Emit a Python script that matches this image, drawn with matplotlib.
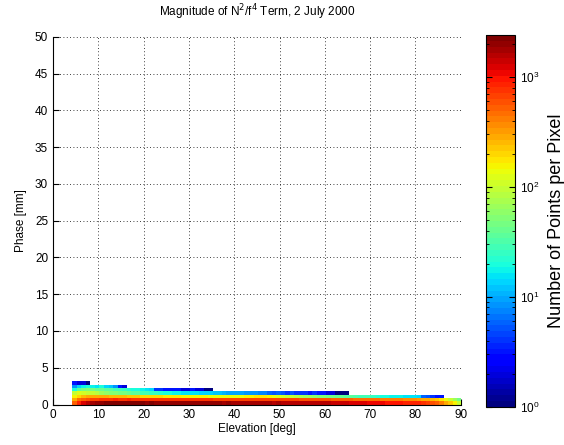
import numpy as np
import matplotlib
matplotlib.use('Agg')
import matplotlib.pyplot as plt
from matplotlib.colors import LogNorm
from matplotlib.ticker import LogLocator

plt.rcParams['font.family'] = ['Liberation Sans', 'DejaVu Sans']

# histogram bins: 1 deg in elevation, 0.45 mm in phase
elev_edges = np.arange(4.25, 91.0, 1.0)
phase_edges = [0.0, 0.45, 0.9, 1.35, 1.8, 2.25, 2.7, 3.15]

# counts per bin, one list per phase row (bottom row first); zero = empty
row0 = [500, 900, 1300, 1600, 1800, 2000,
        2100, 2200, 2300, 2300, 2300, 2300, 2200, 2300, 2200, 2200,
        2100, 2200, 2100, 2100, 2100, 2000, 2100, 2000, 2000, 2000,
        2000, 1900, 2000, 1900, 1900, 1900, 1900, 1800, 1900, 1800,
        1800, 1800, 1700, 1800, 1700, 1700, 1700, 1700, 1600, 1700,
        1600, 1600, 1600, 1600, 1500, 1600, 1500, 1500, 1500, 1500,
        1500, 1400, 1400, 1400, 1400,
        1300, 1250, 1200, 1200, 1150, 1100, 1100, 1050, 1000, 1000,
        950, 950, 900, 900, 850, 850, 800,
        700, 600, 500, 400, 300, 220, 150, 100]
row1 = [300, 450, 550, 600, 650, 700,
        750, 800, 800, 850, 800, 800, 850, 800, 800, 800,
        800, 780, 800, 780, 760, 780, 760, 750, 760, 740,
        740, 730, 740, 720, 720,
        700, 700, 700, 690, 690, 680, 680, 680, 670, 670,
        660, 660, 650, 650, 650, 640, 640, 630, 630, 620,
        620, 610, 610, 600, 600,
        560, 550, 540, 520, 510, 500, 490, 480, 470, 460,
        450, 440, 430, 420, 410, 400, 390, 380, 370, 350,
        330, 300, 280, 250, 220, 180, 140, 100, 70, 45]
row2 = [150, 200, 250, 280, 300, 300, 280, 280, 260, 250, 250,
        240, 230, 220, 220, 210, 200, 200, 190, 190, 180, 180, 170,
        170, 160, 160,
        160, 150, 150, 150, 140, 140, 140, 130, 130, 130, 130, 140,
        150, 160, 170, 180, 170,
        150, 130, 120, 110, 100, 90, 80, 75, 70, 65, 60, 55, 50,
        45, 45, 40, 40, 38, 35, 32, 30, 30, 28, 25,
        22, 20, 20, 18, 18, 17, 16, 16, 15, 14,
        6, 5, 4, 3, 3,
        0, 0, 0, 0]
row3 = [90, 120, 110, 100, 90, 80,
        70, 60, 55, 50, 45, 45, 40, 35, 35,
        30, 28, 25, 25, 22, 20, 20,
        18, 18, 16, 16, 15, 15, 14, 14, 13,
        12, 12, 11, 10, 10, 9, 9, 8, 8, 8, 7, 7,
        6, 5, 6, 5, 4, 5, 4, 4, 4, 3, 4, 3, 3,
        2, 2, 1, 1, 1]
row4 = [20, 35, 45, 50, 45, 40, 40, 35, 35, 30, 30, 25, 22, 20,
        20, 18, 16, 14,
        4, 4, 3, 3, 3, 3, 2, 2, 3, 2, 2, 1, 1]
row5 = [8, 14, 18, 20, 18, 16, 20, 14, 12, 8, 3, 2]
row6 = [3, 2, 2, 1]

rows = [row0, row1, row2, row3, row4, row5, row6]
n_cols = len(elev_edges) - 1
counts = np.zeros((len(rows), n_cols))
for k, r in enumerate(rows):
    counts[k, :len(r)] = r
counts = np.ma.masked_equal(counts, 0)

fig = plt.figure(figsize=(5.64, 4.45), dpi=100)
ax = fig.add_axes([0.094, 0.091, 0.723, 0.826])
cax = fig.add_axes([0.862, 0.086, 0.051, 0.835])

cmap = plt.get_cmap('jet', 64)
mesh = ax.pcolormesh(elev_edges, phase_edges, counts, cmap=cmap,
                     norm=LogNorm(vmin=1, vmax=2400))

ax.set_xlim(0, 90)
ax.set_ylim(0, 50)
ax.set_xticks(np.arange(0, 91, 10))
ax.set_yticks(np.arange(0, 51, 5))
ax.set_axisbelow(True)
ax.grid(True, linestyle=(0, (1, 3)), color='black', linewidth=0.6)
for side in ['top', 'right']:
    ax.spines[side].set_visible(False)
ax.tick_params(direction='in', labelsize=8.5, length=4)
ax.set_xlabel('Elevation [deg]', fontsize=8.5, labelpad=1)
ax.set_ylabel('Phase [mm]', fontsize=8.5, labelpad=6)
ax.set_title('Magnitude of N$^2$/f$^4$ Term, 2 July 2000', fontsize=8.5, pad=15)

cb = fig.colorbar(mesh, cax=cax)
cb.outline.set_linewidth(0.8)
cb.set_ticks([1, 10, 100, 1000])
cb.ax.yaxis.set_minor_locator(LogLocator(base=10, subs=np.arange(2, 10)))
cb.ax.tick_params(which='both', direction='in', left=True, right=True,
                  labelsize=8.5)
cb.ax.tick_params(which='major', length=4)
cb.ax.tick_params(which='minor', length=2)
cb.set_label('Number of Points per Pixel', fontsize=13, labelpad=6)

fig.savefig('out.png', dpi=100)
